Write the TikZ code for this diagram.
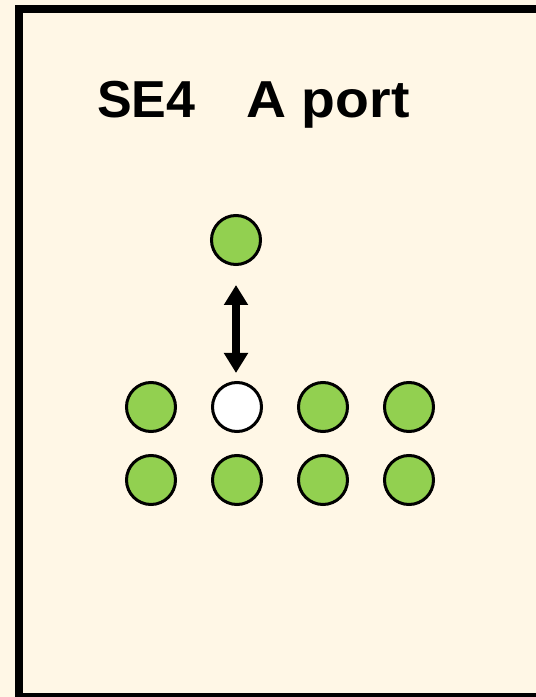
\documentclass[tikz,border=0pt]{standalone}
\usepackage{fontspec}
\usepackage{graphicx}
\setmainfont{Liberation Sans}
\usetikzlibrary{arrows.meta}
\definecolor{cream}{HTML}{FFF7E6}
\definecolor{leafgreen}{HTML}{92D050}
\begin{document}
\begin{tikzpicture}[x=1pt,y=1pt,
  dot/.style={circle,draw=black,line width=3pt,fill=leafgreen,minimum size=49pt,inner sep=0pt},
  emptydot/.style={dot,fill=white},
  swap/.style={line width=8pt,{Triangle[width=23pt,length=20pt]}-{Triangle[width=23pt,length=20pt]}}]
\useasboundingbox (0,0) rectangle (536,697);
\begin{scope}
\clip (0,0) rectangle (536,697);
\fill[cream] (0,0) rectangle (536,697);
\draw[line width=8pt] (19,0) -- (19,688) -- (536,688);
\draw[line width=8pt] (19,0) -- (536,0);
\end{scope}
\node[anchor=base west,inner sep=0pt,font=\bfseries\fontsize{52}{60}\selectfont] (title) at (97,579) {SE4\hspace{51pt}\scalebox{1.065}[1]{A port}};
\node[dot] (top) at (236,457) {};
\node[dot] (a1) at (151,290) {};
\node[emptydot] (a2) at (237,290) {};
\node[dot] (a3) at (323,290) {};
\node[dot] (a4) at (409,290) {};
\node[dot] (b1) at (151,217) {};
\node[dot] (b2) at (237,217) {};
\node[dot] (b3) at (323,217) {};
\node[dot] (b4) at (409,217) {};
\draw[swap,shorten <=19pt,shorten >=8pt] (top) -- (top |- a2.north);
\end{tikzpicture}
\end{document}
